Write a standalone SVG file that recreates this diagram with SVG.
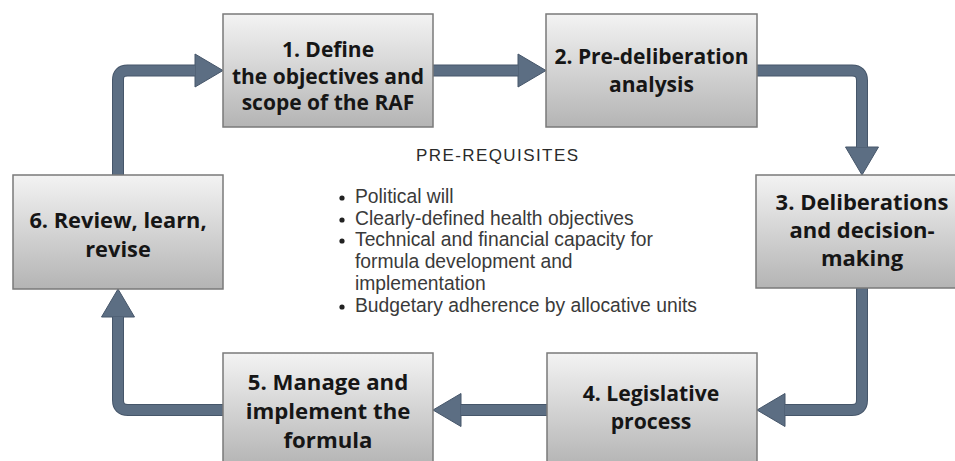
<svg xmlns="http://www.w3.org/2000/svg" width="955" height="461" viewBox="0 0 955 461">
<defs>
<linearGradient id="g" x1="0" y1="0" x2="0" y2="1">
<stop offset="0" stop-color="#f3f3f3"/>
<stop offset="1" stop-color="#b4b4b4"/>
</linearGradient>
<marker id="ah" markerUnits="userSpaceOnUse" markerWidth="40" markerHeight="40" viewBox="0 -20 30 40" refX="0" refY="0" orient="auto" overflow="visible">
<polygon points="0,-16.5 28,0 0,16.5" fill="#5c6e83" stroke="#46566a" stroke-width="1" stroke-linejoin="round"/>
</marker>
<style>
.box{fill:url(#g);stroke:#7a7a7a;stroke-width:1.5}
.lbl{font-family:"Open Sans",Lato,"Liberation Sans",sans-serif;font-weight:700;font-size:21px;fill:#161616;text-anchor:middle}
.sh{fill:none;stroke:#46566a;stroke-width:12;stroke-linejoin:round}
.si{fill:none;stroke:#5c6e83;stroke-width:10;stroke-linejoin:round}
.pre{font-family:"Liberation Sans",Arial,sans-serif;font-size:17px;fill:#2a2a2a}
.bul{font-family:"Liberation Sans",Arial,sans-serif;font-size:19.3px;fill:#3a3a3a}
</style>
</defs>
<rect width="955" height="461" fill="#ffffff"/>
<g id="connectors">
<path class="sh" d="M118 175 V80 Q118 70.5 127.5 70.5 H195" marker-end="url(#ah)"/>
<path class="si" d="M118 175 V80 Q118 70.5 127.5 70.5 H195"/>
<path class="sh" d="M433 70.5 H518" marker-end="url(#ah)"/>
<path class="si" d="M433 70.5 H518"/>
<path class="sh" d="M757 70.5 H852 Q862 70.5 862 80.5 V147" marker-end="url(#ah)"/>
<path class="si" d="M757 70.5 H852 Q862 70.5 862 80.5 V147"/>
<path class="sh" d="M862 288 V400 Q862 410 852 410 H785" marker-end="url(#ah)"/>
<path class="si" d="M862 288 V400 Q862 410 852 410 H785"/>
<path class="sh" d="M547 410 H461" marker-end="url(#ah)"/>
<path class="si" d="M547 410 H461"/>
<path class="sh" d="M223 410 H128 Q118 410 118 400 V317" marker-end="url(#ah)"/>
<path class="si" d="M223 410 H128 Q118 410 118 400 V317"/>
</g>
<g id="node1">
<rect class="box" x="223" y="14" width="210" height="113"/>
<text class="lbl" x="328" y="57" style="font-size:21px">1. Define</text>
<text class="lbl" x="328" y="83.5" style="font-size:21px">the objectives and</text>
<text class="lbl" x="328" y="110" style="font-size:21px">scope of the RAF</text>
</g>
<g id="node2">
<rect class="box" x="546" y="14" width="211" height="113"/>
<text class="lbl" x="651.5" y="64" style="font-size:21px">2. Pre-deliberation</text>
<text class="lbl" x="651.5" y="92" style="font-size:21px">analysis</text>
</g>
<g id="node3">
<rect class="box" x="756" y="175" width="212" height="113"/>
<text class="lbl" x="862" y="210" style="font-size:22px">3. Deliberations</text>
<text class="lbl" x="862" y="238" style="font-size:22px">and decision-</text>
<text class="lbl" x="862" y="266" style="font-size:22px">making</text>
</g>
<g id="node4">
<rect class="box" x="547" y="353" width="210" height="113"/>
<text class="lbl" x="651" y="401" style="font-size:21.2px">4. Legislative</text>
<text class="lbl" x="651" y="429" style="font-size:21.2px">process</text>
</g>
<g id="node5">
<rect class="box" x="223" y="353" width="210" height="113"/>
<text class="lbl" x="328" y="390" style="font-size:22.2px">5. Manage and</text>
<text class="lbl" x="328" y="419" style="font-size:22.2px">implement the</text>
<text class="lbl" x="328" y="448" style="font-size:22.2px">formula</text>
</g>
<g id="node6">
<rect class="box" x="13" y="175" width="210" height="114"/>
<text class="lbl" x="118" y="228" style="font-size:21.8px">6. Review, learn,</text>
<text class="lbl" x="118" y="257" style="font-size:21.8px">revise</text>
</g>
<g id="prerequisites">
<text class="pre" x="497" y="161" text-anchor="middle" textLength="162">PRE-REQUISITES</text>
<circle cx="342" cy="198" r="2.6" fill="#222"/>
<circle cx="342" cy="220" r="2.6" fill="#222"/>
<circle cx="342" cy="241" r="2.6" fill="#222"/>
<circle cx="342" cy="307" r="2.6" fill="#222"/>
<text class="bul" x="355" y="203">Political will</text>
<text class="bul" x="355" y="225">Clearly-defined health objectives</text>
<text class="bul" x="355" y="246">Technical and financial capacity for</text>
<text class="bul" x="355" y="268">formula development and</text>
<text class="bul" x="355" y="290">implementation</text>
<text class="bul" x="355" y="312">Budgetary adherence by allocative units</text>
</g>
</svg>
